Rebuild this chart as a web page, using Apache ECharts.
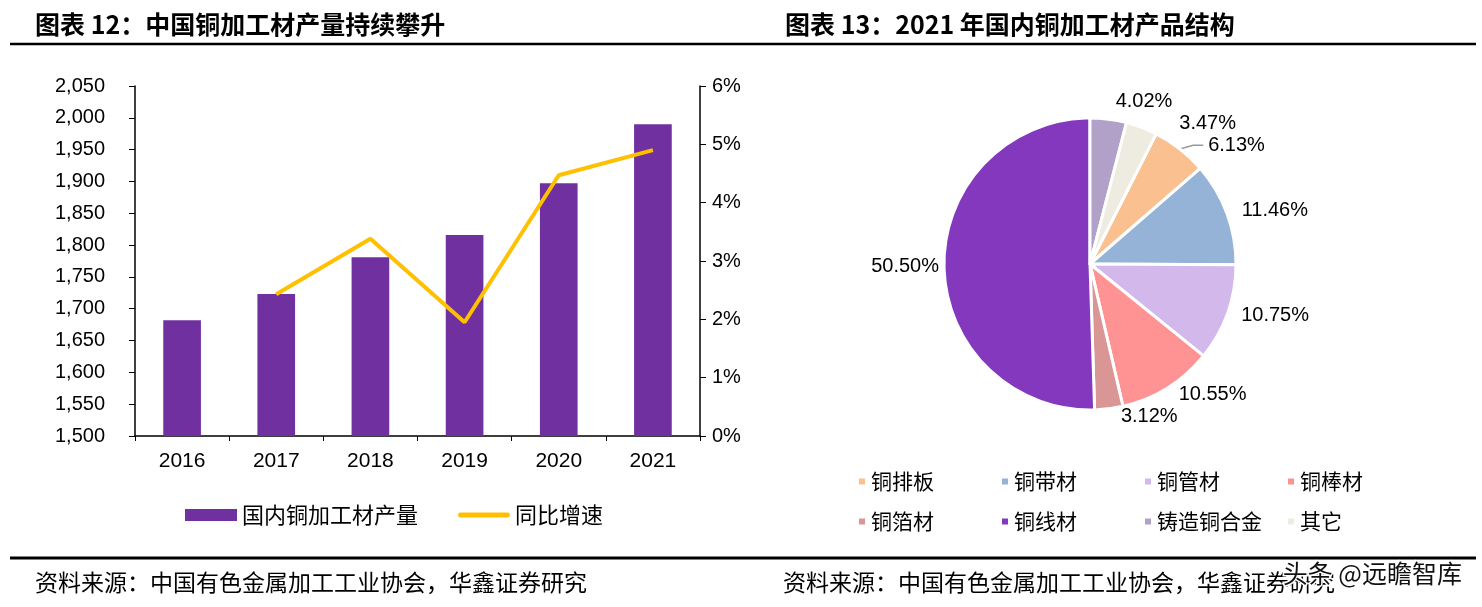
<!DOCTYPE html>
<html>
<head>
<meta charset="utf-8">
<script src="https://cdn.jsdelivr.net/npm/echarts@6/dist/echarts.min.js"></script>
<style>
html,body{margin:0;padding:0;background:#fff;}
#c{width:1482px;height:607px;}
</style>
</head>
<body>
<div id="c"></div>
<script>
// ---- Data ----
const years = ['2016', '2017', '2018', '2019', '2020', '2021'];
const output = [1682, 1723, 1781, 1816, 1897, 1990];
const growth = [null, 2.43, 3.38, 1.95, 4.47, 4.90];
const pieNames = ['铜排板', '铜带材', '铜管材', '铜棒材', '铜箔材', '铜线材', '铸造铜合金', '其它'];
const pieValues = [6.13, 11.46, 10.75, 10.55, 3.12, 50.50, 4.02, 3.47];
const pieColors = ['#FAC090', '#95B3D7', '#D3B8EC', '#FF9393', '#D99694', '#8338BE', '#B1A0C7', '#EEECE1'];

const CJK = '"Noto Sans CJK SC", "Liberation Sans", sans-serif';
const LAT = '"Liberation Sans", Arial, sans-serif';

const chart = echarts.init(document.getElementById('c'));

// per-slice label line tweaks (style only)
const lineTweaks = {
  '铜排板': { show: true, length: 10, length2: 10 },
  '铜线材': { show: false, length: 0, length2: 0 },
  '铸造铜合金': { show: false, length: 18, length2: 0 },
  '其它': { show: false, length: 18, length2: 4 }
};
const pieData = pieNames.map((n, i) => ({
  name: n,
  value: pieValues[i],
  itemStyle: { color: pieColors[i] },
  labelLine: lineTweaks[n] || { show: false }
}));

chart.setOption({
  backgroundColor: '#fff',
  animation: false,
  title: [
    { text: '图表 12：中国铜加工材产量持续攀升', left: 30, top: 7,
      textStyle: { fontFamily: CJK, fontSize: 25, fontWeight: 'bold', color: '#000' } },
    { text: '图表 13：2021 年国内铜加工材产品结构', left: 780, top: 7,
      textStyle: { fontFamily: CJK, fontSize: 25, fontWeight: 'bold', color: '#000' } },
    { text: '资料来源：中国有色金属加工工业协会，华鑫证券研究', left: 30, top: 566,
      textStyle: { fontFamily: CJK, fontSize: 23, fontWeight: 'normal', color: '#000' } },
    { text: '资料来源：中国有色金属加工工业协会，华鑫证券研究', left: 778, top: 566,
      textStyle: { fontFamily: CJK, fontSize: 23, fontWeight: 'normal', color: '#000' } },
    { text: '头条 @远瞻智库', right: 12, top: 556,
      textStyle: { fontFamily: CJK, fontSize: 25, fontWeight: 'normal', color: '#111',
        textBorderColor: '#fff', textBorderWidth: 3 } }
  ],
  graphic: [
    { type: 'line', shape: { x1: 10, y1: 44, x2: 1476, y2: 44 }, style: { stroke: '#000', lineWidth: 2.5 } },
    { type: 'line', shape: { x1: 10, y1: 558, x2: 1476, y2: 558 }, style: { stroke: '#000', lineWidth: 3 } }
  ],
  legend: [
    {
      data: [
        { name: '国内铜加工材产量', icon: 'rect' },
        { name: '同比增速', icon: 'path://M0,0 M2,3.5 L50,3.5 A2.5,2.5 0 0 1 50,8.5 L2,8.5 A2.5,2.5 0 0 1 2,3.5 Z M52,12' }
      ],
      left: 180, top: 499,
      itemWidth: 52, itemHeight: 12, itemGap: 40,
      textStyle: { fontFamily: CJK, fontSize: 22, color: '#000' }
    },
    {
      data: pieNames,
      left: 852, top: 466, width: 580,
      icon: 'rect',
      itemWidth: 8, itemHeight: 8, itemGap: 19,
      textStyle: { fontFamily: CJK, fontSize: 21, color: '#000', width: 110, lineHeight: 21 }
    }
  ],
  grid: [{ left: 135, right: 782, top: 86, bottom: 171 }],
  xAxis: [{
    type: 'category', data: years, gridIndex: 0,
    axisLine: { lineStyle: { color: '#000', width: 1.5 } },
    axisTick: { show: true, length: 5, lineStyle: { color: '#000' } },
    axisLabel: { fontFamily: LAT, fontSize: 21, color: '#000', margin: 15 }
  }],
  yAxis: [
    {
      type: 'value', min: 1500, max: 2050, interval: 50, gridIndex: 0,
      axisLine: { show: true, lineStyle: { color: '#000', width: 1.5 } },
      axisTick: { show: true, length: 6, lineStyle: { color: '#000' } },
      splitLine: { show: false },
      axisLabel: {
        fontFamily: LAT, fontSize: 20, color: '#000', margin: 30,
        formatter: v => v.toLocaleString('en-US')
      }
    },
    {
      type: 'value', min: 0, max: 6, interval: 1, gridIndex: 0, position: 'right',
      axisLine: { show: true, lineStyle: { color: '#000', width: 1.5 } },
      axisTick: { show: true, length: 6, lineStyle: { color: '#000' } },
      splitLine: { show: false },
      axisLabel: { fontFamily: LAT, fontSize: 20, color: '#000', margin: 12, formatter: '{value}%' }
    }
  ],
  series: [
    {
      name: '国内铜加工材产量', type: 'bar', data: output, barWidth: '40%',
      xAxisIndex: 0, yAxisIndex: 0,
      itemStyle: { color: '#7030A0' }
    },
    {
      name: '同比增速', type: 'line', data: growth,
      xAxisIndex: 0, yAxisIndex: 1,
      symbol: 'none', connectNulls: false,
      lineStyle: { color: '#FFC000', width: 4 },
      itemStyle: { color: '#FFC000' }
    },
    {
      name: '结构', type: 'pie', center: [1090, 264], radius: 146,
      startAngle: 63.04, clockwise: true,
      data: pieData,
      itemStyle: { borderColor: '#fff', borderWidth: 3 },
      label: {
        show: true, position: 'outside', fontFamily: LAT, fontSize: 20, color: '#000',
        formatter: p => p.value.toFixed(2) + '%'
      },
      labelLine: { show: false, length: 8, length2: 6, lineStyle: { color: '#999', width: 1.5 } },
      emphasis: { disabled: true }
    }
  ]
});
</script>
</body>
</html>
